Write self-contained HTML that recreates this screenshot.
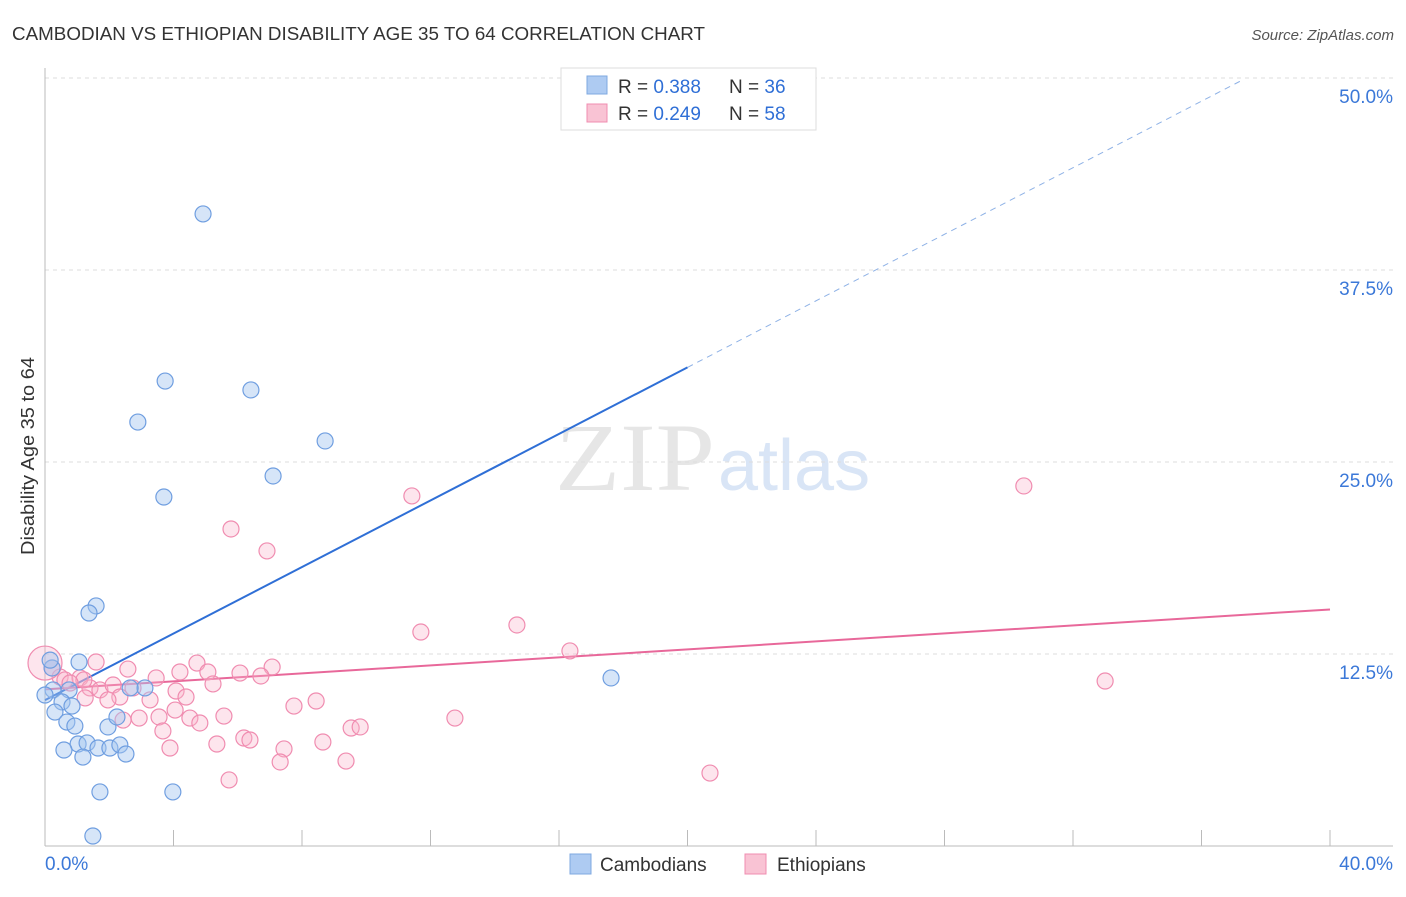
<!DOCTYPE html>
<html><head><meta charset="utf-8"><style>
body{margin:0;background:#fff;font-family:"Liberation Sans",sans-serif;}
svg text{font-family:"Liberation Sans",sans-serif;}
</style></head><body>
<svg id="chart" width="1406" height="892" viewBox="0 0 1406 892">
<text x="12" y="40" font-size="18" fill="#333" textLength="693" lengthAdjust="spacingAndGlyphs">CAMBODIAN VS ETHIOPIAN DISABILITY AGE 35 TO 64 CORRELATION CHART</text>
<text x="1394" y="40" font-size="15" fill="#555" font-style="italic" text-anchor="end">Source: ZipAtlas.com</text>
<text x="555" y="490" font-size="96" fill="#e6e6e6" textLength="160" lengthAdjust="spacingAndGlyphs" style="font-family:'Liberation Serif',serif">ZIP</text>
<text x="718" y="490" font-size="72" fill="#d9e5f6">atlas</text>
<g id="grid"></g>
<g id="axes"></g>
<text transform="translate(34,456) rotate(-90)" font-size="18" fill="#333" text-anchor="middle" textLength="198" lengthAdjust="spacingAndGlyphs">Disability Age 35 to 64</text>
<g id="lines"></g>
<g id="points"></g>
<g>
<rect x="561" y="68" width="255" height="62" fill="#fff" stroke="#ddd"/>
<rect x="587" y="76" width="20" height="18" fill="#aecbf2" stroke="#7fa8e0"/>
<rect x="587" y="104" width="20" height="18" fill="#f9c3d4" stroke="#f08cb0"/>
<text x="618" y="93" font-size="19" fill="#333">R = <tspan fill="#2f6fd6">0.388</tspan></text>
<text x="729" y="93" font-size="19" fill="#333">N = <tspan fill="#2f6fd6">36</tspan></text>
<text x="618" y="120" font-size="19" fill="#333">R = <tspan fill="#2f6fd6">0.249</tspan></text>
<text x="729" y="120" font-size="19" fill="#333">N = <tspan fill="#2f6fd6">58</tspan></text>
</g>
<g>
<rect x="570" y="854" width="21" height="20" fill="#aecbf2" stroke="#7fa8e0"/>
<text x="600" y="871" font-size="19" fill="#333">Cambodians</text>
<rect x="745" y="854" width="21" height="20" fill="#f9c3d4" stroke="#f08cb0"/>
<text x="777" y="871" font-size="19" fill="#333">Ethiopians</text>
</g>
</svg>
<script>
const xTicks=[0,4,8,12,16,20,24,28,32,36,40];
const yTicks=[12.5,25,37.5,50];
const yTickLabels=["12.5%","25.0%","37.5%","50.0%"];
const camX=[4.92,3.74,6.41,2.89,8.72,7.10,3.70,1.59,1.37,1.06,0.22,0.25,0.75,0.0,0.53,0.84,0.31,0.68,0.93,1.96,2.24,3.11,2.65,1.03,1.31,0.59,1.65,2.02,2.33,2.52,1.18,1.71,3.98,1.49,17.62,0.16];
const camY=[41.15,30.27,29.69,27.6,26.37,24.09,22.72,15.63,15.17,11.98,11.59,10.16,10.16,9.83,9.38,9.11,8.72,8.07,7.81,7.75,8.4,10.29,10.29,6.64,6.71,6.25,6.38,6.38,6.58,5.99,5.79,3.52,3.52,0.65,10.94,12.1];
const ethX=[30.47,11.42,5.79,6.91,11.70,14.69,16.34,33.0,1.59,2.58,4.20,4.73,5.07,6.07,7.07,6.72,0.22,0.47,0.62,1.09,1.40,1.71,2.12,2.33,2.74,3.27,3.46,4.08,4.39,5.23,4.05,4.51,4.82,5.57,3.55,2.93,2.43,3.67,1.25,1.96,7.75,8.44,8.65,9.53,9.81,12.76,5.35,6.19,6.38,7.44,7.32,9.37,3.89,5.73,20.70,1.21,0.78,0.0];
const ethY=[23.44,22.79,20.64,19.21,13.93,14.39,12.70,10.74,11.98,11.52,11.33,11.91,11.33,11.26,11.65,11.07,11.59,11.0,10.81,10.94,10.29,10.16,10.48,9.70,10.29,9.51,10.94,10.09,9.70,10.55,8.85,8.33,8.01,8.46,8.40,8.33,8.20,7.49,9.64,9.51,9.11,9.44,6.77,7.68,7.75,8.33,6.64,7.03,6.90,6.32,5.47,5.53,6.38,4.30,4.75,10.81,10.61,11.91];
const camLine=[9.5,1.083];
const ethLine=[10.2,0.13];
const camSolidEnd=20, camDashEnd=37.2;

const NS="http://www.w3.org/2000/svg";
const X0=45,X1=1330,YB=846,YT=78;
const sx=v=>X0+(X1-X0)*v/40;
const sy=v=>YB-(YB-YT)*v/50;
function mk(tag,attrs,parent){const e=document.createElementNS(NS,tag);for(const k in attrs)e.setAttribute(k,attrs[k]);parent.appendChild(e);return e;}
const grid=document.getElementById('grid'),axes=document.getElementById('axes'),lines=document.getElementById('lines'),pts=document.getElementById('points');
yTicks.forEach((t,i)=>{
 const g=mk('line',{x1:X0,x2:1393,y1:sy(t),y2:sy(t),stroke:'#ddd','stroke-dasharray':'4,4'},grid);
 
 
 const tx=mk('text',{x:1393,y:sy(t)+25,'font-size':19,fill:'#3b78d8','text-anchor':'end'},axes);
 tx.textContent=yTickLabels[i];
 
 
});
const al=mk('line',{x1:X0,x2:X0,y1:68,y2:YB,stroke:'#bbb'},axes);


const bl=mk('line',{x1:X0,x2:1393,y1:YB,y2:YB,stroke:'#bbb'},axes);


xTicks.forEach(t=>{
 const tk=mk('line',{x1:sx(t),x2:sx(t),y1:830,y2:YB,stroke:'#bbb'},axes);
 
 
});
[[0,"0.0%","start"],[40,"40.0%","end"]].forEach(([v,l,a])=>{
 const tx=mk('text',{x:a==="start"?sx(v):1393,y:870,'font-size':19,fill:'#3b78d8','text-anchor':a},axes);
 tx.textContent=l;
 
 
});
const lc=(l,x)=>l[0]+l[1]*x;
const b1=mk('line',{x1:sx(0),y1:sy(lc(camLine,0)),x2:sx(camSolidEnd),y2:sy(lc(camLine,camSolidEnd)),stroke:'#2f6fd6','stroke-width':2},lines);


const b2=mk('line',{x1:sx(camSolidEnd),y1:sy(lc(camLine,camSolidEnd)),x2:sx(camDashEnd),y2:sy(lc(camLine,camDashEnd)),stroke:'#8fb2e6','stroke-width':1,'stroke-dasharray':'6,5'},lines);


const p1=mk('line',{x1:sx(0),y1:sy(lc(ethLine,0)),x2:sx(40),y2:sy(lc(ethLine,40)),stroke:'#e8689a','stroke-width':2},lines);


ethX.forEach((x,i)=>{
 const r=(x===0)?17:8;
 const c=mk('circle',{cx:sx(x),cy:sy(ethY[i]),r:r,fill:'rgba(248,180,202,0.35)',stroke:'#f08cb0','stroke-width':1.2},pts);
 
 
});
camX.forEach((x,i)=>{
 const c=mk('circle',{cx:sx(x),cy:sy(camY[i]),r:8,fill:'rgba(165,198,240,0.45)',stroke:'#6f9ee0','stroke-width':1.2},pts);
 
 
});
</script>
</body></html>
